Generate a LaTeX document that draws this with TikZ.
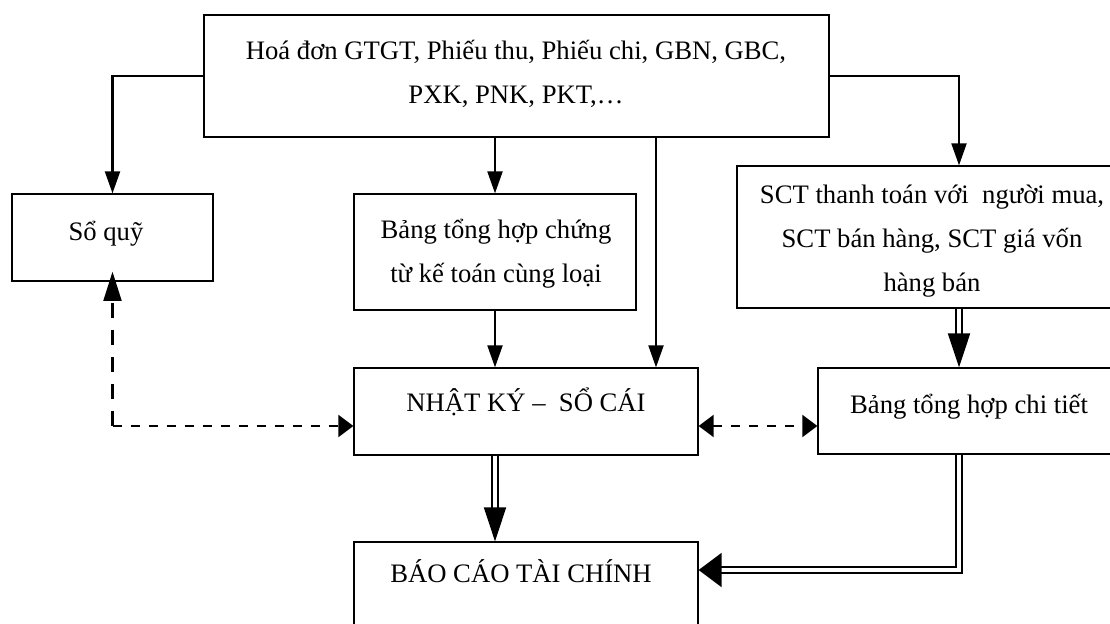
\documentclass[tikz,border=0pt]{standalone}
\usepackage{fontspec}
\setmainfont{Liberation Serif}
\usetikzlibrary{arrows.meta,calc}

\tikzset{
  box/.style={draw, line width=0.95pt, inner sep=0pt},
  txt/.style={font=\fontsize{20}{33}\selectfont, align=center, anchor=base, inner sep=0pt},
  link/.style={line width=1.6pt},
  dbl/.style={double, double distance=2.4pt, line width=1.5pt, line join=miter},
  dashv/.style={line width=1.6pt, dash pattern=on 11.25pt off 9pt},
  dashh/.style={line width=1.6pt, dash pattern=on 6.75pt off 6.75pt},
  vtip/.style={-{Triangle[length=16.5pt,width=11.25pt]}},
  htip/.style={-{Triangle[length=11.25pt,width=16.5pt]}},
  hboth/.style={{Triangle[length=11.25pt,width=16.5pt]}-{Triangle[length=11.25pt,width=16.5pt]}},
  uptip/.style={-{Triangle[length=22pt,width=13.5pt]}},
  bigvtip/.style={-{Triangle[length=25.5pt,width=16.5pt]}},
  bightip/.style={-{Triangle[length=17.25pt,width=25.5pt]}}
}

\begin{document}
\begin{tikzpicture}[x=0.75pt,y=-0.75pt]
\useasboundingbox (0,0) rectangle (1110,624);
\fill[white] (0,0) rectangle (1110,624);
\clip (0,0) rectangle (1110,624);

% boxes
\node[box, minimum width=468.75pt, minimum height=91.5pt] (top) at (516.5,76) {};
\node[box, minimum width=150.75pt, minimum height=65.25pt] (quy) at (112.5,237.5) {};
\node[box, minimum width=211.5pt, minimum height=87pt] (bth) at (495,252) {};
\node[box, minimum width=292.5pt, minimum height=106.5pt] (sct) at (932,237) {};
\node[box, minimum width=258pt, minimum height=65.25pt] (nk) at (526,411.5) {};
\node[box, minimum width=226.5pt, minimum height=64.5pt] (ct) at (969,411) {};
\node[box, minimum width=258pt, minimum height=66pt] (bc) at (526,586) {};

% box texts (base anchor sits on the last line)
\node[txt] (top-t) at (516,104) {Hoá đơn GTGT, Phiếu thu, Phiếu chi, GBN, GBC,\\PXK, PNK, PKT,…};
\node[txt] (quy-t) at (106,240) {Sổ quỹ};
\node[txt] (bth-t) at (496,282) {Bảng tổng hợp chứng\\từ kế toán cùng loại};
\node[txt] (sct-t) at (932,291) {SCT thanh toán với\ \ người mua,\\SCT bán hàng, SCT giá vốn\\hàng bán};
\node[txt] (nk-t) at (526,411) {NHẬT KÝ –\ \ SỔ CÁI};
\node[txt] (ct-t) at (969,413) {Bảng tổng hợp chi tiết};
\node[txt] (bc-t) at (521,582) {BÁO CÁO TÀI CHÍNH};

% helper coordinates
\coordinate (rx) at (959,0);
\coordinate (mx) at (656,0);
\coordinate (by) at (0,570);
\coordinate (dl) at (112.5,426);
\coordinate (qt) at ($(quy.south)+(0,-10)$);

% solid connectors
\draw[link,vtip] (top.west) -| (quy.north);
\draw[link,vtip] (top.east) -| (rx |- sct.north);
\draw[link,vtip] (bth.north |- top.south) -- (bth.north);
\draw[link,vtip] (mx |- top.south) -- (mx |- nk.north);
\draw[link,vtip] (bth.south) -- (bth.south |- nk.north);

% double connectors
\draw[dbl,bigvtip] (rx |- sct.south) -- (rx |- ct.north);
\draw[dbl,bigvtip] (bth.south |- nk.south) -- (bth.south |- bc.north);
\draw[dbl,bightip] (rx |- ct.south) -- (rx |- by) -- (bc.east |- by);

% dashed connectors
\draw[dashv,uptip] (dl) -- (qt);
\draw[dashh,htip] (dl) -- (nk.west |- dl);
\draw[dashh,hboth] (nk.east |- dl) -- (ct.west |- dl);
\end{tikzpicture}
\end{document}
